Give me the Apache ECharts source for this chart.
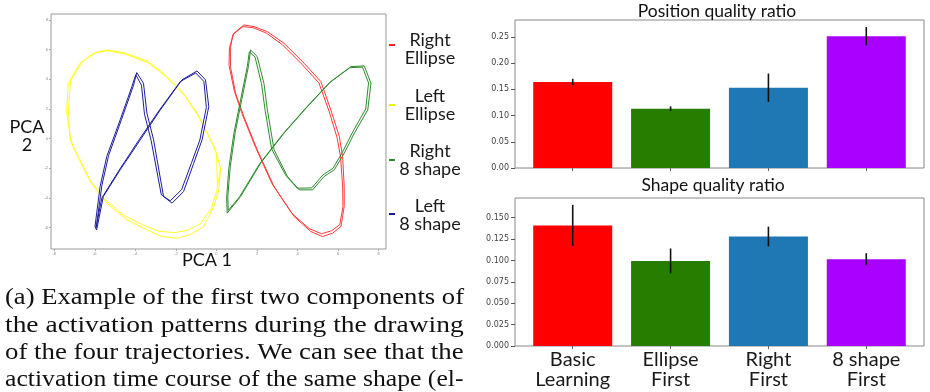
<!DOCTYPE html>
<html><head><meta charset="utf-8">
<script src="https://cdn.jsdelivr.net/npm/echarts@6/dist/echarts.min.js"></script>
<style>html,body{margin:0;padding:0;background:#fff;}#c{width:930px;height:392px;}</style>
</head><body><div id="c"></div>
<script>
// ---- PCA trajectories (PCA1, PCA2) ----
const rightEllipse = [[0.86,7.10],[1.35,7.66],[1.85,7.55],[2.51,7.21],[3.33,6.43],[4.32,5.08],[5.15,3.84],[5.64,1.93],[6.06,0.13],[6.22,-1.21],[6.30,-3.24],[6.30,-4.58],[6.14,-5.93],[5.73,-6.38],[5.23,-6.61],[4.65,-6.27],[3.83,-5.26],[2.84,-3.24],[2.01,-0.76],[1.35,1.48],[0.94,3.06],[0.69,4.85],[0.69,6.09],
  [0.80,7.0],[1.30,7.55],[1.80,7.48],[2.45,7.12],[3.25,6.33],[4.22,5.0],[5.05,3.75],[5.55,1.85],[5.95,0.05],[6.12,-1.25],[6.22,-3.2],[6.24,-4.6],[6.08,-5.8],[5.68,-6.22],[5.18,-6.42],[4.58,-6.08],[3.72,-5.05],[2.74,-3.05],[1.93,-0.6],[1.28,1.6],[0.88,3.2],[0.62,4.95],[0.64,6.15],[0.86,7.10]];
const leftEllipse = [[0.20,-2.0],[0.12,-3.46],[-0.13,-4.58],[-0.63,-5.93],[-1.29,-6.49],[-1.95,-6.72],[-2.69,-6.61],[-3.43,-6.16],[-4.42,-5.48],[-5.41,-4.36],[-6.16,-3.01],[-6.73,-1.44],[-7.15,-0.31],[-7.39,1.71],[-7.31,3.73],[-6.73,5.08],[-6.07,5.75],[-5.41,5.98],[-4.59,5.80],[-3.43,5.24],[-2.61,4.40],[-1.70,3.17],[-0.96,1.71],[-0.38,0.13],[-0.05,-0.76],[0.20,-2.0],
  [0.12,-2.1],[0.02,-3.5],[-0.25,-4.7],[-0.8,-5.75],[-1.45,-6.2],[-2.1,-6.35],[-2.85,-6.25],[-3.6,-5.85],[-4.55,-5.2],[-5.5,-4.1],[-6.25,-2.8],[-6.85,-1.2],[-7.22,0.0],[-7.3,1.9],[-7.2,3.9],[-6.6,5.2],[-5.95,5.8],[-5.35,5.92],[-4.5,5.7],[-3.35,5.1],[-2.5,4.2],[-1.6,2.95],[-0.88,1.5],[-0.3,-0.05],[0.0,-1.0],[0.05,-3.3]];
const right8 = [[1.68,5.98],[2.01,5.53],[2.34,3.73],[2.51,1.93],[2.84,-0.76],[3.50,-2.56],[4.08,-3.46],[4.74,-3.46],[5.31,-2.56],[5.81,-2.11],[6.30,-0.99],[6.80,0.36],[7.46,1.93],[7.62,3.73],[7.29,4.90],[6.63,4.85],[5.64,3.84],[4.49,2.16],[3.33,0.36],[2.18,-1.66],[1.19,-3.91],[0.53,-5.03],[0.50,-4.02],[0.61,-2.0],[0.86,0.36],[1.19,2.61],[1.52,4.85],
  [1.62,5.85],[1.90,5.5],[2.22,3.7],[2.40,1.9],[2.72,-0.7],[3.40,-2.45],[3.98,-3.35],[4.70,-3.33],[5.25,-2.45],[5.75,-2.0],[6.22,-0.9],[6.72,0.45],[7.36,2.0],[7.50,3.75],[7.20,4.82],[6.58,4.78],[5.58,3.78],[4.43,2.1],[3.27,0.3],[2.12,-1.72],[1.13,-3.95],[0.58,-4.85],[0.56,-3.9],[0.68,-1.9],[0.92,0.4],[1.25,2.65],[1.58,4.9],[1.68,5.98]];
const left8 = [[-3.93,4.45],[-3.60,3.73],[-3.43,1.71],[-3.10,-0.09],[-2.61,-3.91],[-2.19,-4.36],[-1.62,-3.57],[-1.12,-1.66],[-0.71,-0.09],[-0.38,2.16],[-0.54,3.96],[-0.96,4.56],[-1.70,3.96],[-2.77,1.93],[-3.76,-0.09],[-4.75,-2.11],[-5.58,-3.91],[-5.91,-6.16],[-5.99,-5.93],[-5.74,-3.24],[-5.41,-1.21],[-4.75,1.26],[-4.17,3.51],
  [-3.98,4.3],[-3.70,3.6],[-3.55,1.65],[-3.22,-0.15],[-2.72,-3.8],[-2.28,-4.2],[-1.72,-3.45],[-1.22,-1.6],[-0.82,-0.1],[-0.50,2.1],[-0.62,3.85],[-1.02,4.42],[-1.78,3.85],[-2.85,1.85],[-3.85,-0.15],[-4.83,-2.2],[-5.65,-4.0],[-5.95,-6.05],[-5.90,-5.7],[-5.65,-3.15],[-5.32,-1.15],[-4.68,1.3],[-4.10,3.55],[-3.93,4.45]];
const pcaXTicks = [-8,-6,-4,-2,0,2,4,6,8];
const pcaYTicks = [-6,-4,-2,0,2,4,6,8];

// ---- bar charts ----
const categories = ['Basic\nLearning','Ellipse\nFirst','Right\nFirst','8 shape\nFirst'];
const posValues = [0.164, 0.113, 0.153, 0.251];
const posErr = [0.006, 0.0045, 0.027, 0.0175];
const shapeValues = [0.141, 0.0995, 0.128, 0.1015];
const shapeErr = [0.024, 0.0145, 0.0115, 0.007];
const posTicks = [0, 0.05, 0.10, 0.15, 0.20, 0.25];
const shapeTicks = [0, 0.025, 0.05, 0.075, 0.10, 0.125, 0.15];
const barColors = ['#ff0000', '#267d00', '#1f77b4', '#aa00ff'];

const caption = [
  '(a) Example of the first two components of',
  'the activation patterns during the drawing',
  'of the four trajectories. We can see that the',
  'activation time course of the same shape (el-'
];
const captionStretch = [1.109, 1.145, 1.117, 1.07];

const chart = echarts.init(document.getElementById('c'), null, {renderer: 'canvas'});
const catIdx = categories.map((c, i) => i);

function barData(vals) { return vals.map((v, i) => ({value: [i, v], itemStyle: {color: barColors[i]}})); }
function errData(vals, errs) { return vals.map((v, i) => [i, v - errs[i], v + errs[i]]); }
function errRender(params, api) {
  const p1 = api.coord([api.value(0), api.value(1)]);
  const p2 = api.coord([api.value(0), api.value(2)]);
  return {type: 'line', shape: {x1: p1[0], y1: p1[1], x2: p2[0], y2: p2[1]}, style: {stroke: '#111', lineWidth: 1.6}};
}

const smallLbl = {fontFamily: 'DejaVu Sans', fontSize: 8, color: '#444'};
function txt(x, y, text, font, fill, align, lh, sx) {
  return {type: 'text', x: x, y: y, z: 100, scaleX: sx || 1, style: {text: text, font: font, fill: fill || '#111',
    textAlign: align || 'center', align: align || 'center', textVerticalAlign: 'middle', verticalAlign: 'middle', lineHeight: lh}};
}
function dash(y, color) {
  return {type: 'line', z: 100, shape: {x1: 389, y1: y, x2: 395, y2: y}, style: {stroke: color, lineWidth: 2}};
}

const graphic = [
  txt(27, 136, 'PCA\n2', '18px Lato', '#111', 'center', 18),
  txt(207, 260, 'PCA 1', '18px Lato', '#111', 'center'),
  dash(45, '#ff2020'), dash(105, '#f0f000'), dash(160, '#2e8b2e'), dash(214, '#1c1c9c'),
  txt(430, 49, 'Right\nEllipse', '18px Lato', '#1a1a1a', 'center', 18.5),
  txt(430, 105, 'Left\nEllipse', '18px Lato', '#1a1a1a', 'center', 18.5),
  txt(430, 160, 'Right\n8 shape', '18px Lato', '#1a1a1a', 'center', 18),
  txt(430, 215.5, 'Left\n8 shape', '18px Lato', '#1a1a1a', 'center', 18),
  txt(717, 11, 'Position quality ratio', '17.5px Lato', '#111', 'center'),
  txt(713, 185, 'Shape quality ratio', '17.5px Lato', '#111', 'center')
];
caption.forEach((line, i) => graphic.push(txt(5, 298 + i * 27.3, line, '24px "Liberation Serif"', '#111', 'left', null, captionStretch[i])));

const option = {
  animation: false,
  backgroundColor: '#fff',
  grid: [
    {left: 51, top: 14, width: 335, height: 235, show: true, borderColor: '#999', borderWidth: 1},
    {left: 515, top: 20, width: 409, height: 148, show: true, borderColor: '#888', borderWidth: 1},
    {left: 515, top: 198, width: 409, height: 148, show: true, borderColor: '#888', borderWidth: 1}
  ],
  xAxis: [
    {gridIndex: 0, type: 'value', min: -8.16, max: 8.36, splitLine: {show: false},
      axisLine: {show: false, onZero: false},
      axisTick: {show: true, length: 2, lineStyle: {color: '#aaa'}, customValues: pcaXTicks},
      axisLabel: {customValues: pcaXTicks, fontSize: 4, color: '#888', margin: 3}},
    {gridIndex: 1, type: 'value', min: -0.59, max: 3.59, splitLine: {show: false},
      axisLine: {show: false, onZero: false},
      axisTick: {show: true, length: 3, lineStyle: {color: '#666'}, customValues: catIdx},
      axisLabel: {show: false}},
    {gridIndex: 2, type: 'value', min: -0.59, max: 3.59, splitLine: {show: false},
      axisLine: {show: false, onZero: false},
      axisTick: {show: true, length: 3, lineStyle: {color: '#666'}, customValues: catIdx},
      axisLabel: {customValues: catIdx, formatter: v => categories[Math.round(v)], fontFamily: 'Lato', fontSize: 20, lineHeight: 20, color: '#1a1a1a', margin: 4}}
  ],
  yAxis: [
    {gridIndex: 0, type: 'value', min: -7.45, max: 8.4, splitLine: {show: false},
      axisLine: {show: false, onZero: false},
      axisTick: {show: true, length: 2, lineStyle: {color: '#aaa'}, customValues: pcaYTicks},
      axisLabel: {customValues: pcaYTicks, fontSize: 4, color: '#888', margin: 3}},
    {gridIndex: 1, type: 'value', min: 0, max: 0.282, splitLine: {show: false},
      axisLine: {show: false, onZero: false},
      axisTick: {show: true, length: 4, lineStyle: {color: '#555'}, customValues: posTicks},
      axisLabel: Object.assign({customValues: posTicks, formatter: v => v.toFixed(2), margin: 6}, smallLbl)},
    {gridIndex: 2, type: 'value', min: 0, max: 0.173, splitLine: {show: false},
      axisLine: {show: false, onZero: false},
      axisTick: {show: true, length: 4, lineStyle: {color: '#555'}, customValues: shapeTicks},
      axisLabel: Object.assign({customValues: shapeTicks, formatter: v => v.toFixed(3), margin: 6}, smallLbl)}
  ],
  series: [
    {type: 'line', xAxisIndex: 0, yAxisIndex: 0, data: leftEllipse, showSymbol: false, lineStyle: {color: '#ffff22', width: 1}},
    {type: 'line', xAxisIndex: 0, yAxisIndex: 0, data: rightEllipse, showSymbol: false, lineStyle: {color: '#ff3a3a', width: 1}},
    {type: 'line', xAxisIndex: 0, yAxisIndex: 0, data: right8, showSymbol: false, lineStyle: {color: '#2e8b2e', width: 1}},
    {type: 'line', xAxisIndex: 0, yAxisIndex: 0, data: left8, showSymbol: false, lineStyle: {color: '#1c1c9c', width: 1}},
    {type: 'bar', xAxisIndex: 1, yAxisIndex: 1, data: barData(posValues), barWidth: 79},
    {type: 'custom', xAxisIndex: 1, yAxisIndex: 1, data: errData(posValues, posErr), renderItem: errRender, encode: {x: 0, y: [1, 2]}, z: 5},
    {type: 'bar', xAxisIndex: 2, yAxisIndex: 2, data: barData(shapeValues), barWidth: 79},
    {type: 'custom', xAxisIndex: 2, yAxisIndex: 2, data: errData(shapeValues, shapeErr), renderItem: errRender, encode: {x: 0, y: [1, 2]}, z: 5}
  ],
  graphic: graphic
};
chart.setOption(option);
</script></body></html>
